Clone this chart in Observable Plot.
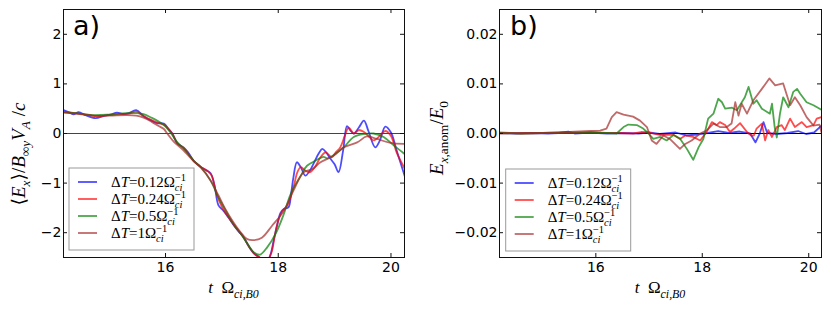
<!DOCTYPE html>
<html><head><meta charset="utf-8">
<script src="https://cdn.jsdelivr.net/npm/d3@7"></script>
<script src="https://cdn.jsdelivr.net/npm/@observablehq/plot@0.6"></script>
<style>
body{margin:0;background:#fff;}
#wrap{position:relative;width:831px;height:311px;overflow:hidden;background:#fff;}
.panel{position:absolute;top:0;}
</style>
</head><body><div id="wrap"></div>
<script>
// ---------- data ----------
const seriesNames = ["0.12", "0.24", "0.5", "1"];
const seriesColors = ["blue", "red", "green", "brown"];
const xTicks = [16, 18, 20];
const yTicksA = [-2, -1, 0, 1, 2];
const yTicksB = [-0.02, -0.01, 0, 0.01, 0.02];

// panel a) <Ex>/B V_A/c  — [t, value]
const a_012 = [[14.19,0.47],[14.30,0.42],[14.37,0.385],[14.46,0.43],[14.58,0.37],[14.76,0.31],[14.90,0.35],[15.02,0.38],[15.14,0.42],[15.25,0.39],[15.35,0.41],[15.48,0.47],[15.61,0.35],[15.75,0.26],[15.85,0.21],[15.97,0.20],[16.05,0.10],[16.12,0.0],[16.21,-0.2],[16.32,-0.28],[16.40,-0.38],[16.50,-0.55],[16.62,-0.67],[16.72,-0.74],[16.80,-0.80],[16.87,-1.05],[16.94,-1.45],[17.03,-1.56],[17.12,-1.70],[17.21,-1.85],[17.30,-1.98],[17.38,-2.08],[17.48,-2.28],[17.57,-2.42],[17.65,-2.48],[17.72,-2.55],[17.80,-2.58],[17.86,-2.45],[17.92,-2.15],[17.98,-1.85],[18.04,-1.60],[18.10,-1.52],[18.18,-1.49],[18.23,-1.2],[18.27,-0.88],[18.33,-0.58],[18.40,-0.68],[18.48,-0.85],[18.56,-0.75],[18.65,-0.55],[18.72,-0.40],[18.78,-0.31],[18.85,-0.38],[18.92,-0.50],[19.00,-0.62],[19.07,-0.78],[19.15,-0.35],[19.22,0.15],[19.28,0.06],[19.34,0.0],[19.43,0.12],[19.52,0.26],[19.60,0.05],[19.72,-0.28],[19.80,-0.15],[19.90,0.14],[20.00,0.02],[20.10,-0.34],[20.25,-0.88]];
const a_024 = [[14.19,0.43],[14.40,0.41],[14.60,0.38],[14.80,0.35],[15.00,0.37],[15.20,0.39],[15.35,0.40],[15.48,0.44],[15.60,0.36],[15.75,0.27],[15.88,0.21],[15.98,0.17],[16.06,0.08],[16.12,0.0],[16.21,-0.2],[16.32,-0.29],[16.50,-0.55],[16.62,-0.67],[16.75,-0.76],[16.82,-0.85],[16.90,-1.2],[17.00,-1.48],[17.10,-1.66],[17.21,-1.84],[17.30,-1.97],[17.40,-2.12],[17.50,-2.32],[17.60,-2.45],[17.70,-2.52],[17.80,-2.56],[17.88,-2.40],[17.94,-2.05],[18.00,-1.76],[18.08,-1.55],[18.16,-1.45],[18.27,-1.09],[18.34,-0.78],[18.40,-0.68],[18.48,-0.75],[18.56,-0.78],[18.65,-0.68],[18.75,-0.48],[18.84,-0.38],[18.95,-0.48],[19.02,-0.38],[19.10,-0.28],[19.18,-0.05],[19.25,0.12],[19.34,0.0],[19.43,0.07],[19.52,0.03],[19.60,-0.05],[19.69,-0.14],[19.80,-0.05],[19.90,0.05],[20.00,-0.05],[20.10,-0.38],[20.25,-0.72]];
const a_05 = [[14.19,0.43],[14.40,0.41],[14.70,0.37],[15.00,0.38],[15.30,0.41],[15.48,0.41],[15.61,0.39],[15.75,0.32],[15.88,0.24],[16.00,0.14],[16.10,0.0],[16.21,-0.18],[16.35,-0.34],[16.50,-0.55],[16.62,-0.67],[16.80,-0.95],[16.94,-1.29],[17.05,-1.52],[17.21,-1.83],[17.36,-2.06],[17.47,-2.25],[17.57,-2.40],[17.68,-2.44],[17.80,-2.30],[17.95,-2.03],[18.10,-1.62],[18.22,-1.22],[18.40,-0.85],[18.51,-0.65],[18.66,-0.55],[18.80,-0.47],[18.87,-0.50],[19.00,-0.42],[19.16,-0.28],[19.34,-0.07],[19.52,-0.01],[19.69,0.0],[19.87,-0.07],[20.05,-0.24],[20.25,-0.42]];
const a_1 = [[14.19,0.42],[14.40,0.40],[14.70,0.36],[15.00,0.36],[15.30,0.37],[15.48,0.36],[15.61,0.32],[15.75,0.24],[15.88,0.15],[15.97,0.09],[16.03,0.0],[16.15,-0.17],[16.30,-0.32],[16.50,-0.56],[16.62,-0.68],[16.80,-0.95],[16.94,-1.25],[17.05,-1.50],[17.21,-1.80],[17.36,-2.03],[17.45,-2.13],[17.57,-2.15],[17.71,-2.10],[17.89,-1.86],[18.10,-1.56],[18.27,-1.15],[18.45,-0.78],[18.60,-0.72],[18.75,-0.58],[18.98,-0.45],[19.16,-0.28],[19.40,-0.18],[19.57,-0.06],[19.75,-0.11],[19.99,-0.19],[20.25,-0.21]];

// panel b) E_x,anom / E0 — [t, value]
const b_012 = [[14.18,0.0001],[14.5,0.0],[14.8,0.0001],[15.1,0.0],[15.3,0.0001],[15.48,0.0004],[15.6,0.0],[15.9,0.0002],[16.2,0.0],[16.5,0.0001],[16.8,0.0],[17.0,0.0002],[17.2,-0.0001],[17.5,0.0002],[17.7,-0.0004],[17.9,-0.0002],[18.1,0.0001],[18.3,0.0005],[18.5,0.0001],[18.7,0.0004],[18.9,0.0],[19.0,-0.0018],[19.08,0.0],[19.15,0.0023],[19.22,0.0001],[19.4,-0.0001],[19.6,0.0001],[19.8,0.0005],[19.95,-0.0001],[20.1,0.0002],[20.24,0.0016]];
const b_024 = [[14.18,0.0002],[14.6,0.0],[15.0,0.0001],[15.5,0.0002],[16.0,0.0001],[16.4,0.0001],[16.7,0.0],[16.85,0.0003],[17.0,0.0002],[17.2,-0.0003],[17.45,-0.0002],[17.58,-0.0011],[17.68,-0.0004],[17.83,-0.0007],[17.96,-0.0014],[18.08,0.0003],[18.18,0.0023],[18.27,0.0017],[18.33,0.0023],[18.43,0.0017],[18.52,0.0003],[18.6,0.001],[18.71,0.0021],[18.84,0.0003],[18.92,-0.0004],[18.97,-0.0004],[19.02,0.001],[19.12,0.002],[19.18,-0.0014],[19.24,0.0007],[19.31,-0.0007],[19.4,0.0013],[19.49,0.0017],[19.55,0.0007],[19.65,0.003],[19.74,0.0013],[19.87,0.0023],[19.96,0.0013],[20.09,0.0017],[20.15,0.003],[20.24,0.0033]];
const b_05 = [[14.18,0.0001],[14.6,0.0],[15.0,0.0001],[15.5,0.0001],[16.0,0.0002],[16.39,0.0],[16.52,0.0013],[16.61,0.0018],[16.77,0.0017],[16.89,0.001],[16.99,0.0],[17.08,-0.0011],[17.21,-0.0007],[17.33,-0.0014],[17.46,-0.0003],[17.58,-0.001],[17.71,-0.0031],[17.83,-0.0053],[17.93,-0.0028],[18.02,-0.0011],[18.11,0.003],[18.21,0.004],[18.3,0.007],[18.37,0.0063],[18.43,0.005],[18.56,0.0052],[18.65,0.0047],[18.8,0.0073],[18.87,0.0094],[18.96,0.006],[19.02,0.0067],[19.12,0.005],[19.27,0.004],[19.31,0.006],[19.36,0.0013],[19.4,-0.0008],[19.46,0.004],[19.52,0.0073],[19.62,0.0053],[19.71,0.0084],[19.78,0.009],[19.84,0.008],[19.96,0.0063],[20.09,0.0057],[20.24,0.0048]];
const b_1 = [[14.18,0.0],[14.6,0.0001],[15.0,0.0001],[15.5,0.0003],[15.9,0.0005],[16.08,0.0006],[16.2,0.001],[16.3,0.0033],[16.39,0.0043],[16.52,0.0038],[16.7,0.0034],[16.83,0.0026],[16.96,0.0013],[17.05,-0.0014],[17.14,-0.0021],[17.27,-0.0004],[17.39,-0.0011],[17.58,-0.0031],[17.68,-0.0021],[17.8,-0.0014],[17.96,0.0],[18.08,0.0006],[18.21,0.002],[18.33,0.0013],[18.46,0.0013],[18.55,0.002],[18.62,0.0063],[18.68,0.0036],[18.74,0.006],[18.84,0.004],[18.96,0.0067],[19.12,0.009],[19.26,0.0111],[19.37,0.0097],[19.52,0.0101],[19.59,0.0077],[19.65,0.0057],[19.74,0.0073],[19.84,0.0057],[19.96,0.0033],[20.09,0.0016],[20.2,0.0018],[20.24,0.0002]];

const panelA = [a_012, a_024, a_05, a_1];
const panelB = [b_012, b_024, b_05, b_1];

// ---------- drawing ----------
const SERIF = "'Liberation Serif', 'DejaVu Serif', serif";
const SANS = "'DejaVu Sans', sans-serif";
const H = 311, MT = 9, MB = 54;
const PH = H - MT - MB;

function makePanel({data, width, ml, mr, yDomain, yTicks, fmt, curve, zeroStroke}) {
  const PW = width - ml - mr;
  const marks = [Plot.ruleY([0], {stroke: zeroStroke, strokeWidth: 1.2})];
  data.forEach((s, i) => marks.push(Plot.line(s, {
    x: d => d[0], y: d => d[1], stroke: seriesColors[i], strokeOpacity: 0.7,
    strokeWidth: 1.8, curve, clip: true
  })));
  marks.push(
    Plot.frame({stroke: "#111", strokeWidth: 1}),
    Plot.tickX(xTicks, {x: d => d, insetTop: PH - 4, stroke: "#111"}),
    Plot.tickX(xTicks, {x: d => d, insetBottom: PH - 4, stroke: "#111"}),
    Plot.tickY(yTicks, {y: d => d, insetRight: PW - 4, stroke: "#111"}),
    Plot.tickY(yTicks, {y: d => d, insetLeft: PW - 4, stroke: "#111"}),
    Plot.axisX({ticks: xTicks, tickSize: 0, tickPadding: 5, label: null, tickFormat: d3.format("d")}),
    Plot.axisY({ticks: yTicks, tickSize: 0, tickPadding: 2, label: null, tickFormat: fmt})
  );
  return Plot.plot({
    width, height: H, marginLeft: ml, marginRight: mr, marginTop: MT, marginBottom: MB,
    x: {domain: [14.19, 20.24]},
    y: {domain: yDomain},
    style: {fontFamily: SANS, fontSize: "14px", background: "white", color: "black", overflow: "visible"},
    marks
  });
}

function mathText(svg, x, y, parts, {size = 14, anchor = "start", rotate = false} = {}) {
  const t = d3.select(svg).append("text")
    .attr("x", x).attr("y", y)
    .attr("font-family", SERIF).attr("font-size", size)
    .attr("text-anchor", anchor).attr("fill", "black");
  if (rotate) t.attr("transform", `rotate(-90 ${x} ${y})`);
  let cur = 0;
  for (const p of parts) {
    const target = p.s === "sub" ? size * 0.28 : p.s === "sup" ? -size * 0.42 : 0;
    const ts = t.append("tspan").text(p.t).attr("dy", target - cur);
    if (p.i) ts.attr("font-style", "italic");
    if (p.s) ts.attr("font-size", size * 0.7);
    if (p.dx) ts.attr("dx", p.dx);
    cur = target;
  }
}

function addLegend(svg, bx, by) {
  const g = d3.select(svg).append("g");
  g.append("rect").attr("x", bx).attr("y", by).attr("width", 125).attr("height", 82)
    .attr("fill", "white").attr("stroke", "#999").attr("stroke-width", 1);
  seriesNames.forEach((n, i) => {
    const yy = by + 14 + i * 17;
    g.append("line").attr("x1", bx + 9).attr("x2", bx + 28).attr("y1", yy).attr("y2", yy)
      .attr("stroke", seriesColors[i]).attr("stroke-opacity", 0.7).attr("stroke-width", 1.8);
    mathText(svg, bx + 42, yy + 5, [
      {t: "Δ"}, {t: "T", i: true}, {t: "=" + n + "Ω"},
      {t: "ci", i: true, s: "sub"}, {t: "−1", s: "sup", dx: -7.5}
    ], {size: 15});
  });
}

function xLabel(svg, cx) {
  mathText(svg, cx, 293, [{t: "t", i: true}, {t: "  Ω"}, {t: "ci,B0", i: true, s: "sub"}], {size: 17, anchor: "middle"});
}

function panelLabel(svg, x, txt) {
  d3.select(svg).append("text").attr("x", x).attr("y", 35).attr("font-family", SANS)
    .attr("text-anchor", "start").attr("font-size", 27).attr("fill", "black").text(txt);
}

const wrap = document.getElementById("wrap");

// panel a
const svgA = makePanel({data: panelA, width: 415, ml: 63, mr: 11, yDomain: [-2.5, 2.5], yTicks: yTicksA,
  fmt: d3.format("d"), curve: "catmull-rom", zeroStroke: "#444"});
addLegend(svgA, 69, 168);
xLabel(svgA, 233.5);
mathText(svgA, 25, 154, [
  {t: "⟨"}, {t: "E", i: true}, {t: "x", i: true, s: "sub"}, {t: "⟩/"}, {t: "B", i: true},
  {t: "∞y", i: true, s: "sub"}, {t: "V", i: true}, {t: "A", i: true, s: "sub"}, {t: " /"}, {t: "c", i: true}
], {size: 19, anchor: "middle", rotate: true});
panelLabel(svgA, 73, "a)");
const divA = document.createElement("div"); divA.className = "panel"; divA.style.left = "0px";
divA.appendChild(svgA); wrap.appendChild(divA);

// panel b
const svgB = makePanel({data: panelB, width: 416, ml: 84, mr: 10, yDomain: [-0.025, 0.025], yTicks: yTicksB,
  fmt: d3.format(".2f"), curve: "linear", zeroStroke: "#000"});
addLegend(svgB, 90.7, 169);
xLabel(svgB, 245);
mathText(svgB, 28, 138, [
  {t: "E", i: true}, {t: "x", i: true, s: "sub"}, {t: ",anom", s: "sub"}, {t: "/"}, {t: "E", i: true}, {t: "0", s: "sub"}
], {size: 19, anchor: "middle", rotate: true});
panelLabel(svgB, 95, "b)");
const divB = document.createElement("div"); divB.className = "panel"; divB.style.left = "415px";
divB.appendChild(svgB); wrap.appendChild(divB);
</script></body></html>
